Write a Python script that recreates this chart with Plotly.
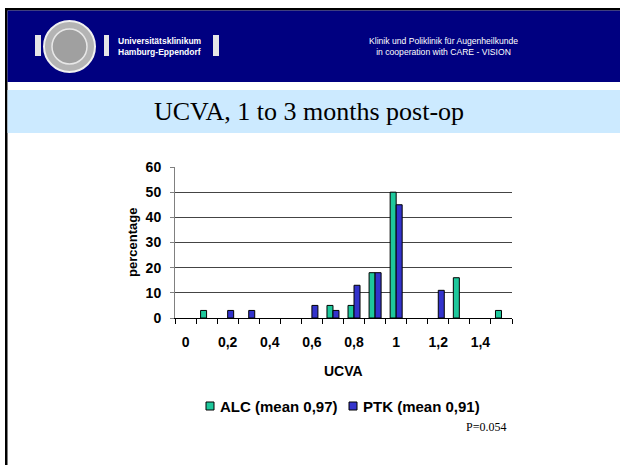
import plotly.graph_objects as go

# ---- data ----
ucva = [0.0, 0.1, 0.2, 0.3, 0.4, 0.5, 0.6, 0.7, 0.8, 0.9, 1.0, 1.1, 1.2, 1.3, 1.4, 1.5]
alc = [0, 3, 0, 0, 0, 0, 0, 5, 5, 18, 50, 0, 0, 16, 0, 3]
ptk = [0, 0, 3, 3, 0, 0, 5, 3, 13, 18, 45, 0, 11, 0, 0, 0]
series_names = ["ALC (mean 0,97)", "PTK (mean 0,91)"]
x_tickvals = [0.0, 0.2, 0.4, 0.6, 0.8, 1.0, 1.2, 1.4]
x_ticktext = ["0", "0,2", "0,4", "0,6", "0,8", "1", "1,2", "1,4"]
y_tickvals = [0, 10, 20, 30, 40, 50, 60]
title_text = "UCVA, 1 to 3 months post-op"
header_lines = ["Klinik und Poliklinik für Augenheilkunde", "in cooperation with CARE - VISION"]
logo_lines = ["Universitätsklinikum", "Hamburg-Eppendorf"]
p_value = "P=0.054"

# ---- style ----
W, H = 620, 465
ML, MR, MT, MB = 175, 108, 167, 147
PW, PH = W - ML - MR, H - MT - MB
GREEN = "#1ec89c"
BLUE = "#3333cc"
NAVY = "#000080"
LIGHTBLUE = "#cceaff"
SANS = "Liberation Sans, Arial, sans-serif"
SERIF = "Liberation Serif, Times New Roman, serif"


def px(x):
    return (x - ML) / PW


def py(y):
    return (H - MB - y) / PH


def nz(v):
    return [a if a else None for a in v]


fig = go.Figure()
fig.add_trace(go.Bar(x=ucva, y=nz(alc), name=series_names[0],
                     marker=dict(color=GREEN, line=dict(color="black", width=1))))
fig.add_trace(go.Bar(x=ucva, y=nz(ptk), name=series_names[1],
                     marker=dict(color=BLUE, line=dict(color="black", width=1))))

half = (ucva[1] - ucva[0]) / 2
boundaries = [ucva[0] - half] + [u + half for u in ucva]

shapes = []
annotations = []

# slide frame / header
shapes.append(dict(type="rect", xref="paper", yref="paper", x0=px(5), x1=px(620), y0=py(8), y1=py(10.5),
                   fillcolor="black", line=dict(width=0), layer="below"))
shapes.append(dict(type="rect", xref="paper", yref="paper", x0=px(5), x1=px(7.5), y0=py(8), y1=py(465),
                   fillcolor="black", line=dict(width=0), layer="below"))
shapes.append(dict(type="rect", xref="paper", yref="paper", x0=px(7.5), x1=px(620), y0=py(10.5), y1=py(82),
                   fillcolor=NAVY, line=dict(width=0), layer="below"))
shapes.append(dict(type="rect", xref="paper", yref="paper", x0=px(7.5), x1=px(620), y0=py(90), y1=py(133),
                   fillcolor=LIGHTBLUE, line=dict(width=0), layer="below"))
# logo approximation
for x0, x1 in [(35, 41), (104, 109), (213, 219)]:
    shapes.append(dict(type="rect", xref="paper", yref="paper", x0=px(x0), x1=px(x1), y0=py(35), y1=py(56),
                       fillcolor="#e6e6e6", line=dict(width=0), layer="below"))
shapes.append(dict(type="circle", xref="paper", yref="paper", x0=px(44), x1=px(95), y0=py(21), y1=py(72),
                   fillcolor="#b4b4b4", line=dict(color="#f0f0f0", width=2), layer="below"))
shapes.append(dict(type="circle", xref="paper", yref="paper", x0=px(52), x1=px(87), y0=py(29), y1=py(64),
                   fillcolor="#a0a0a0", line=dict(color="#e8e8e8", width=1.5), layer="below"))

annotations.append(dict(xref="paper", yref="paper", x=px(160), y=py(46.5), text="<br>".join(logo_lines),
                        showarrow=False, font=dict(family=SANS, size=8.5, color="white", weight="bold"),
                        xanchor="center", yanchor="middle", align="left"))
annotations.append(dict(xref="paper", yref="paper", x=px(443), y=py(47), text="<br>".join(header_lines),
                        showarrow=False, font=dict(family=SANS, size=8.6, color="white"),
                        xanchor="center", yanchor="middle", align="center"))
annotations.append(dict(xref="paper", yref="paper", x=px(309), y=py(112), text=title_text,
                        showarrow=False, font=dict(family=SERIF, size=26, color="black"),
                        xanchor="center", yanchor="middle"))

# axis titles
annotations.append(dict(xref="paper", yref="paper", x=px(343), y=py(371), text="UCVA",
                        showarrow=False, font=dict(family=SANS, size=14, color="black", weight="bold"),
                        xanchor="center", yanchor="middle"))
annotations.append(dict(xref="paper", yref="paper", x=px(132), y=py(243), text="percentage", textangle=-90,
                        showarrow=False, font=dict(family=SANS, size=13, color="black", weight="bold"),
                        xanchor="center", yanchor="middle"))

# legend (manual)
leg_items = [(206, GREEN, series_names[0]), (349, BLUE, series_names[1])]
for x0, col, name in leg_items:
    shapes.append(dict(type="rect", xref="paper", yref="paper", x0=px(x0), x1=px(x0 + 8), y0=py(402), y1=py(410),
                       fillcolor=col, line=dict(color="black", width=1)))
    annotations.append(dict(xref="paper", yref="paper", x=px(x0 + 12), y=py(406), text=name,
                            showarrow=False, font=dict(family=SANS, size=15, color="black", weight="bold"),
                            xanchor="left", yanchor="middle"))

annotations.append(dict(xref="paper", yref="paper", x=px(508), y=py(427), text=p_value,
                        showarrow=False, font=dict(family=SERIF, size=12, color="black"),
                        xanchor="right", yanchor="middle"))

fig.update_layout(
    width=W, height=H, autosize=False,
    margin=dict(l=ML, r=MR, t=MT, b=MB, pad=0),
    paper_bgcolor="white", plot_bgcolor="white",
    barmode="group", bargap=0.43, bargroupgap=0,
    showlegend=False, hovermode=False,
    shapes=shapes, annotations=annotations,
    font=dict(family=SANS, color="black"),
)
fig.update_xaxes(
    range=[boundaries[0], boundaries[-1]], tickvals=x_tickvals, ticktext=x_ticktext,
    ticks="", showgrid=False, zeroline=False,
    showline=True, linecolor="black", linewidth=1,
    tickfont=dict(family=SANS, size=14, color="black", weight="bold"),
    ticklabelstandoff=11,
    minor=dict(tickvals=boundaries, ticks="outside", ticklen=5, tickcolor="black", tickwidth=1, showgrid=False),
)
fig.update_yaxes(
    range=[0, 60], tickvals=y_tickvals, ticks="outside", ticklen=4, tickcolor="#808080",
    showgrid=True, gridcolor="#444444", gridwidth=1, zeroline=False,
    showline=True, linecolor="#808080", linewidth=1,
    tickfont=dict(family=SANS, size=14, color="black", weight="bold"),
    ticklabelstandoff=6,
)

fig.write_html("out.html", config={"displayModeBar": False},
               post_script="document.body.style.margin='0';document.body.style.overflow='hidden';")
